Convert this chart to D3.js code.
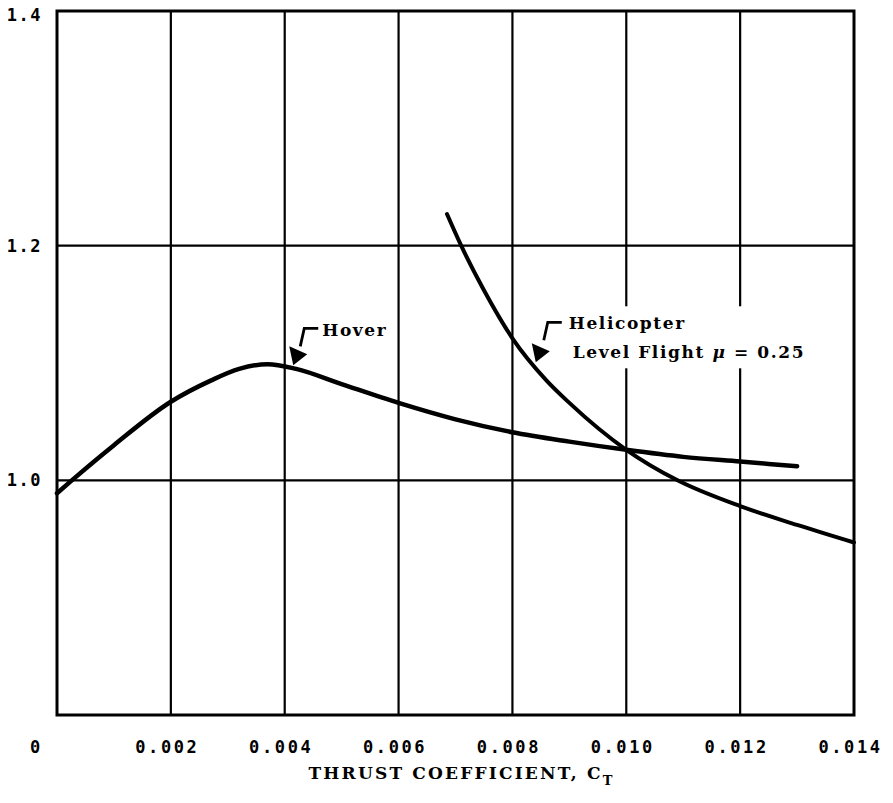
<!DOCTYPE html>
<html>
<head>
<meta charset="utf-8">
<script src="https://cdn.jsdelivr.net/npm/d3@7/dist/d3.min.js"></script>
<style>
  html, body { margin: 0; padding: 0; background: #fff; }
  svg { display: block; }
</style>
</head>
<body>
<svg id="chart" width="893" height="803"></svg>
<script>
// Thrust coefficient values along the horizontal axis
const xTicks = [0, 0.002, 0.004, 0.006, 0.008, 0.010, 0.012, 0.014];
const xTickLabels = ["0", "0.002", "0.004", "0.006", "0.008", "0.010", "0.012", "0.014"];
const yTicks = [1.0, 1.2, 1.4];
const yTickLabels = ["1.0", "1.2", "1.4"];

// Hover curve
const hoverCT = [0, 0.00026, 0.001, 0.002, 0.0027, 0.0032, 0.0037, 0.0042, 0.005, 0.006, 0.007, 0.008, 0.009, 0.010, 0.011, 0.012, 0.013];
const hoverVal = [0.989, 1.000, 1.030, 1.067, 1.085, 1.095, 1.099, 1.095, 1.082, 1.066, 1.052, 1.041, 1.033, 1.026, 1.020, 1.016, 1.012];

// Helicopter level flight, mu = 0.25
const heliCT = [0.00685, 0.0071, 0.0075, 0.008, 0.0086, 0.009, 0.010, 0.0109, 0.012, 0.013, 0.014];
const heliVal = [1.227, 1.200, 1.162, 1.121, 1.085, 1.066, 1.026, 1.000, 0.978, 0.962, 0.947];

const svg = d3.select("#chart");
const margin = { left: 57, right: 39, top: 11, bottom: 88 };
const W = 893, H = 803;

const x = d3.scaleLinear().domain([0, 0.014]).range([margin.left, W - margin.right]);
const y = d3.scaleLinear().domain([0.8, 1.4]).range([H - margin.bottom, margin.top]);

const monoFont = "'DejaVu Sans Mono', 'Liberation Mono', monospace";
const serifFont = "'DejaVu Serif', 'Liberation Serif', serif";

svg.append("rect").attr("width", W).attr("height", H).attr("fill", "#fff");

// Grid lines
const grid = svg.append("g").attr("stroke", "#000").attr("stroke-width", 2.2);
grid.selectAll("line.v").data(xTicks.slice(1, -1)).join("line")
  .attr("class", "v")
  .attr("x1", d => x(d)).attr("x2", d => x(d))
  .attr("y1", y(0.8)).attr("y2", y(1.4));
grid.selectAll("line.h").data(yTicks.filter(d => d < 1.4)).join("line")
  .attr("class", "h")
  .attr("x1", x(0)).attr("x2", x(0.014))
  .attr("y1", d => y(d)).attr("y2", d => y(d));

// Frame
svg.append("rect")
  .attr("x", x(0)).attr("y", y(1.4))
  .attr("width", x(0.014) - x(0)).attr("height", y(0.8) - y(1.4))
  .attr("fill", "none").attr("stroke", "#000").attr("stroke-width", 3);

// Axes (labels only)
const xAxis = svg.append("g")
  .attr("transform", `translate(0,${y(0.8)})`)
  .call(d3.axisBottom(x).tickValues(xTicks).tickSize(0).tickPadding(26)
    .tickFormat((d, i) => xTickLabels[i]));
xAxis.select(".domain").remove();
xAxis.selectAll("text")
  .attr("font-family", monoFont).attr("font-weight", "bold")
  .attr("font-size", 17).attr("letter-spacing", 2.6).attr("fill", "#000")
  .attr("dx", (d, i) => i === 0 ? -21 : -4);

const yAxis = svg.append("g")
  .attr("transform", `translate(${x(0)},0)`)
  .call(d3.axisLeft(y).tickValues(yTicks).tickSize(0).tickPadding(15)
    .tickFormat((d, i) => yTickLabels[i]));
yAxis.select(".domain").remove();
yAxis.selectAll("text")
  .attr("font-family", monoFont).attr("font-weight", "bold")
  .attr("font-size", 17).attr("letter-spacing", 1.5).attr("fill", "#000")
  .attr("dy", (d) => d === 1.4 ? "0.55em" : "0.32em");

// Axis title
const title = svg.append("text")
  .attr("x", (x(0) + x(0.014)) / 2 + 6).attr("y", 779)
  .attr("text-anchor", "middle")
  .attr("font-family", serifFont).attr("font-weight", "bold")
  .attr("font-size", 17).attr("letter-spacing", 2.2).attr("fill", "#000");
title.append("tspan").text("THRUST COEFFICIENT, C");
title.append("tspan").attr("font-size", 13).attr("dy", 6).text("T");

// Curves
const line = d3.line().curve(d3.curveMonotoneX)
  .x(d => x(d[0])).y(d => y(d[1]));

svg.append("path")
  .datum(hoverCT.map((c, i) => [c, hoverVal[i]]))
  .attr("d", line)
  .attr("fill", "none").attr("stroke", "#000").attr("stroke-width", 4.5)
  .attr("stroke-linecap", "round").attr("stroke-linejoin", "round");

svg.append("path")
  .datum(heliCT.map((c, i) => [c, heliVal[i]]))
  .attr("d", line)
  .attr("fill", "none").attr("stroke", "#000").attr("stroke-width", 4)
  .attr("stroke-linecap", "round").attr("stroke-linejoin", "round");

// Annotation with a bent leader and a filled arrowhead
function annotate(tipCT, tipVal, lines, opts) {
  const tx = x(tipCT), ty = y(tipVal);
  const g = svg.append("g");
  if (opts.box) {
    g.append("rect")
      .attr("x", tx + opts.box[0]).attr("y", ty + opts.box[1])
      .attr("width", opts.box[2]).attr("height", opts.box[3])
      .attr("fill", "#fff");
  }
  const kx = tx + opts.knee[0], ky = ty + opts.knee[1];
  // leader: short horizontal stub, then down toward the tip
  g.append("path")
    .attr("d", `M${kx + 14},${ky} H${kx} L${kx - 4},${ky + 18}`)
    .attr("fill", "none").attr("stroke", "#000").attr("stroke-width", 2.8);
  // arrowhead
  g.append("path")
    .attr("d", `M${tx},${ty} L${tx - 4},${ty - 19} L${tx + 14},${ty - 11} Z`)
    .attr("fill", "#000");
  const t = g.append("text")
    .attr("font-family", serifFont).attr("font-weight", "bold")
    .attr("font-size", 17).attr("letter-spacing", 1.6).attr("fill", "#000");
  lines.forEach((ln, i) => {
    const ts = t.append("tspan")
      .attr("x", tx + opts.text[0] + (i ? opts.indent || 0 : 0))
      .attr("y", ty + opts.text[1] + i * opts.lineGap);
    ln.forEach(part => {
      const s = ts.append("tspan").text(part.t);
      if (part.it) s.attr("font-style", "italic");
    });
  });
}

annotate(0.00415, 1.098, [[{ t: "Hover" }]], {
  knee: [11, -37], text: [29, -29], lineGap: 0
});

annotate(0.00841, 1.1006,
  [[{ t: "Helicopter" }],
   [{ t: "Level Flight " }, { t: "\u03bc", it: true }, { t: " = 0.25" }]],
  { knee: [12, -40], text: [33, -33], lineGap: 29, indent: 4, box: [28, -56, 262, 62] });
</script>
</body>
</html>
